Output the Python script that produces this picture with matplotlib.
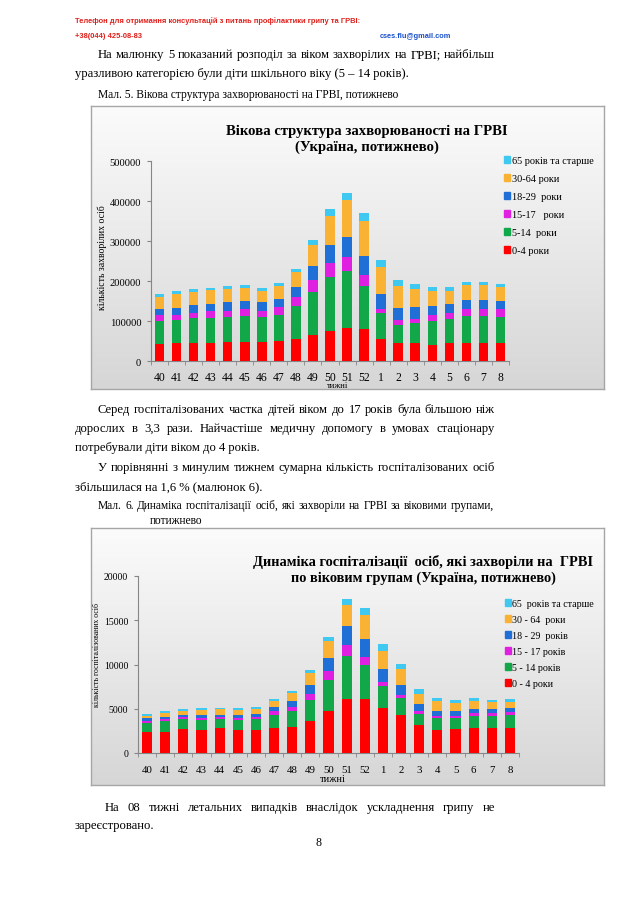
import numpy as np
import matplotlib
matplotlib.use("Agg")
import matplotlib.pyplot as plt
from matplotlib.patches import Patch

# DATA
weeks = ["40", "41", "42", "43", "44", "45", "46", "47", "48", "49", "50", "51", "52",
         "1", "2", "3", "4", "5", "6", "7", "8"]

# fig. 5 - sick persons by age group
sick_0_4 = [43000, 44000, 45000, 46000, 47000, 48000, 48000, 50000, 56000, 64000, 75000, 82000, 79000,
            56000, 46000, 44000, 41000, 44000, 46000, 46000, 46000]
sick_5_14 = [57000, 59000, 63000, 62000, 63000, 65000, 63000, 66000, 82000, 108000, 134000, 142000, 109000,
             63000, 44000, 50000, 60000, 61000, 67000, 67000, 65000]
sick_15_17 = [15000, 13000, 12000, 16000, 16000, 16000, 15000, 18000, 23000, 30000, 35000, 36000, 26000,
              12000, 12000, 12000, 14000, 15000, 18000, 18000, 18000]
sick_18_29 = [15000, 17000, 19000, 18000, 21000, 21000, 21000, 21000, 25000, 35000, 45000, 50000, 48000,
              37000, 30000, 28000, 22000, 22000, 22000, 22000, 22000]
sick_30_64 = [31000, 35000, 34000, 35000, 32000, 32000, 29000, 33000, 37000, 54000, 74000, 92000, 87000,
              68000, 56000, 46000, 37000, 34000, 37000, 37000, 33000]
sick_65 = [7000, 7000, 7000, 6000, 9000, 7000, 7000, 7000, 8000, 11000, 16000, 19000, 21000,
           16000, 14000, 13000, 10000, 9000, 8000, 8000, 8000]
sick_labels = ["0-4 роки", "5-14  роки", "15-17   роки", "18-29  роки", "30-64 роки", "65 років та старше"]

# fig. 6 - hospitalised persons by age group
hosp_0_4 = [2320, 2400, 2660, 2550, 2770, 2620, 2550, 2850, 2960, 3670, 4790, 6140, 6070,
            5130, 4310, 3110, 2550, 2700, 2810, 2850, 2880]
hosp_5_14 = [1050, 1160, 1160, 1200, 1050, 1090, 1270, 1490, 1830, 2360, 3450, 4800, 3860,
             2440, 1870, 1310, 1350, 1270, 1420, 1380, 1430]
hosp_15_17 = [300, 260, 260, 220, 260, 220, 260, 380, 450, 640, 970, 1270, 890,
              480, 340, 300, 290, 260, 340, 340, 300]
hosp_18_29 = [230, 260, 230, 300, 260, 340, 300, 490, 640, 1050, 1500, 2100, 2100,
              1430, 1200, 790, 600, 490, 410, 370, 450]
hosp_30_64 = [330, 490, 450, 600, 600, 600, 600, 630, 860, 1270, 1910, 2360, 2620,
              2020, 1760, 1190, 1050, 940, 860, 790, 740]
hosp_65 = [150, 190, 180, 190, 190, 260, 260, 300, 300, 340, 530, 710, 860,
           820, 630, 530, 340, 300, 340, 300, 300]
hosp_labels = ["0 - 4 роки", "5 - 14 років", "15 - 17 років", "18 - 29  років", "30 - 64  роки",
               "65  років та старше"]

colors = ["#ff0000", "#12a84a", "#e020e0", "#1f6fd6", "#f9b233", "#3fc8f0"]

W, H = 638, 903
SERIF = "Liberation Serif"

fig = plt.figure(figsize=(W / 100, H / 100), dpi=100)
renderer = fig.canvas.get_renderer()


def fx(x):
    return x / W


def fy(y):
    return 1 - y / H


def put_line(x0, y, text, size, x1=None, **kw):
    """writes one line of page text, justified between x0 and x1 when x1 is given"""
    kw.setdefault("family", SERIF)
    if x1 is None:
        fig.text(fx(x0), fy(y), text, fontsize=size, va="center", ha="left", **kw)
        return
    words = text.split(" ")
    widths = []
    for w in words:
        t = fig.text(0, 0, w, fontsize=size, **kw)
        widths.append(t.get_window_extent(renderer).width)
        t.remove()
    gap = (x1 - x0 - sum(widths)) / (len(words) - 1)
    x = x0
    for w, wd in zip(words, widths):
        fig.text(fx(x), fy(y), w, fontsize=size, va="center", ha="left", **kw)
        x += wd + gap


def chart_box(x0, y0, x1, y1):
    """grey gradient background with a frame, like the excel chart area"""
    bg = fig.add_axes([fx(x0), fy(y1), fx(x1 - x0), (y1 - y0) / H], zorder=0)
    grad = np.linspace(0.985, 0.84, 100).reshape(-1, 1)
    bg.imshow(np.dstack([grad, grad, grad]), aspect="auto", extent=[0, 1, 0, 1])
    bg.set_xticks([])
    bg.set_yticks([])
    for s in bg.spines.values():
        s.set_color("#a6a6a6")
        s.set_linewidth(1.0)


def stacked(ax, series, labels, ymax, ystep, tick_size, xpad):
    x = np.arange(len(weeks))
    bottom = np.zeros(len(weeks))
    handles = []
    for vals, lab, col in zip(series, labels, colors):
        ax.bar(x, vals, width=0.56, bottom=bottom, color=col, label=lab, zorder=3)
        bottom += np.array(vals)
        handles.append(Patch(color=col, label=lab))
    ax.set_xlim(-0.5, len(weeks) - 0.5)
    ax.set_ylim(0, ymax)
    ax.set_yticks(np.arange(0, ymax + 1, ystep))
    ax.set_xticks(x)
    ax.set_xticklabels(weeks, family=SERIF, fontsize=tick_size + 0.8)
    ax.set_xticks(np.arange(-0.5, len(weeks), 1), minor=True)
    ax.tick_params(axis="x", which="major", length=0, pad=xpad)
    ax.tick_params(axis="x", which="minor", length=3, color="#868686")
    ax.tick_params(axis="y", length=3, color="#868686", labelsize=tick_size, pad=4)
    for lab in ax.get_yticklabels():
        lab.set_family(SERIF)
    ax.patch.set_alpha(0)
    for s in ["top", "right"]:
        ax.spines[s].set_visible(False)
    for s in ["left", "bottom"]:
        ax.spines[s].set_color("#868686")
        ax.spines[s].set_linewidth(0.8)
    return handles[::-1]


# HEADER
fig.text(fx(75), fy(21), "Телефон для отримання консультацій з питань профілактики грипу та ГРВІ:",
         fontsize=5.4, color="#e0201c", fontweight="bold", family="Liberation Sans", va="center")
fig.text(fx(75), fy(36), "+38(044) 425-08-83", fontsize=5.4, color="#e0201c", fontweight="bold",
         family="Liberation Sans", va="center")
fig.text(fx(380), fy(36), "cses.flu@gmail.com", fontsize=5.3, color="#1a4fcc", fontweight="bold",
         family="Liberation Sans", va="center")

BODY = 9.1
CAP = 8.3
put_line(98, 55, "На малюнку 5 показаний розподіл за віком захворілих на ГРВІ; найбільш", BODY, x1=495)
put_line(75, 74, "уразливою категорією були діти шкільного віку (5 – 14 років).", BODY)
put_line(98, 95, "Мал. 5. Вікова структура захворюваності на ГРВІ, потижнево", CAP)

# CHART 1
chart_box(91, 107, 604, 390)
ax1 = fig.add_axes([fx(151), fy(362), fx(509 - 151), (362 - 162) / H], zorder=2)
h1 = stacked(ax1, [sick_0_4, sick_5_14, sick_15_17, sick_18_29, sick_30_64, sick_65],
             sick_labels, 500000, 100000, 7.6, 7)
fig.text(fx(367), fy(131), "Вікова структура захворюваності на ГРВІ", family=SERIF, fontsize=10.6,
         fontweight="bold", ha="center", va="center", zorder=5)
fig.text(fx(367), fy(147), "(Україна, потижнево)", family=SERIF, fontsize=10.6,
         fontweight="bold", ha="center", va="center", zorder=5)
fig.text(fx(102), fy(258), "кількість захворілих осіб", family=SERIF, fontsize=7,
         rotation=90, ha="center", va="center", zorder=5)
fig.text(fx(338), fy(386), "тижні", family=SERIF, fontsize=6.2, ha="center", va="center", zorder=5)
fig.legend(handles=h1, loc="upper left", bbox_to_anchor=(fx(504), fy(157)), frameon=False,
           prop={"family": SERIF, "size": 7.4}, handlelength=0.6, handleheight=0.6,
           handletextpad=0.15, labelspacing=0.875, borderpad=0, borderaxespad=0)

# TEXT BETWEEN CHARTS
put_line(98, 410, "Серед госпіталізованих частка дітей віком до 17 років була більшою ніж", BODY, x1=495)
put_line(75, 429, "дорослих в 3,3 рази. Найчастіше медичну допомогу в умовах стаціонару", BODY, x1=495)
put_line(75, 448, "потребували діти віком до 4 років.", BODY)
put_line(98, 468, "У порівнянні з минулим тижнем сумарна кількість госпіталізованих осіб", BODY, x1=495)
put_line(75, 487, "збільшилася на 1,6 % (малюнок 6).", BODY)
put_line(98, 506, "Мал. 6. Динаміка госпіталізації осіб, які захворіли на ГРВІ за віковими групами,",
         CAP, x1=494)
put_line(150, 521, "потижнево", CAP)

# CHART 2
chart_box(91, 529, 604, 786)
ax2 = fig.add_axes([fx(138), fy(754), fx(519 - 138), (754 - 577) / H], zorder=2)
h2 = stacked(ax2, [hosp_0_4, hosp_5_14, hosp_15_17, hosp_18_29, hosp_30_64, hosp_65],
             hosp_labels, 20000, 5000, 7.0, 9)
fig.text(fx(423), fy(562), "Динаміка госпіталізації  осіб, які захворіли на  ГРВІ", family=SERIF,
         fontsize=10.4, fontweight="bold", ha="center", va="center", zorder=5)
fig.text(fx(423), fy(578), "по віковим групам (Україна, потижнево)", family=SERIF,
         fontsize=10.4, fontweight="bold", ha="center", va="center", zorder=5)
fig.text(fx(97), fy(655), "кількість госпіталізованих осіб", family=SERIF, fontsize=5.6,
         rotation=90, ha="center", va="center", zorder=5)
fig.text(fx(333), fy(780), "тижні", family=SERIF, fontsize=7.5, ha="center", va="center", zorder=5)
fig.legend(handles=h2, loc="upper left", bbox_to_anchor=(fx(505), fy(600)), frameon=False,
           prop={"family": SERIF, "size": 7.2}, handlelength=0.6, handleheight=0.6,
           handletextpad=0.15, labelspacing=0.70, borderpad=0, borderaxespad=0)

# FOOTER TEXT
put_line(105, 808, "На 08 тижні летальних випадків внаслідок ускладнення грипу не", BODY, x1=495)
put_line(75, 826, "зареєстровано.", BODY)
fig.text(fx(319), fy(843), "8", family=SERIF, fontsize=8.6, ha="center", va="center")

fig.savefig("out.png", dpi=100)
